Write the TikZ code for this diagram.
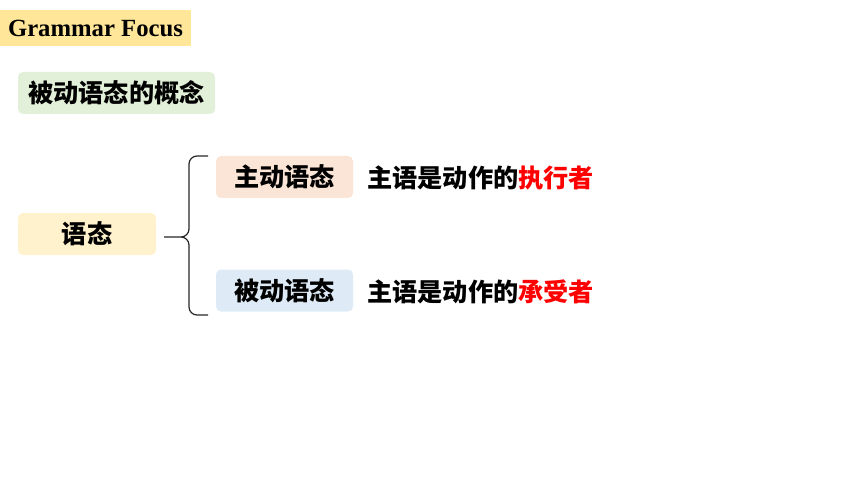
\documentclass[tikz,border=0pt]{standalone}
\usepackage{fontspec}
\usepackage{tikz}
\setmainfont{Liberation Serif}
\newfontfamily\cjk{Noto Sans CJK SC}
\definecolor{focusbg}{HTML}{FFE699}
\definecolor{conceptbg}{HTML}{E2F0D9}
\definecolor{voicebg}{HTML}{FFF2CC}
\definecolor{activebg}{HTML}{FBE5D6}
\definecolor{passivebg}{HTML}{DEEBF7}
\definecolor{keyred}{HTML}{FF0000}
\newcommand*{\key}[1]{\textcolor{keyred}{#1}}
\tikzset{
  box/.style={rounded corners=5pt, inner sep=0pt, minimum height=42pt,
    font=\cjk\bfseries\fontsize{25.2}{29}\selectfont},
  plain/.style={inner sep=0pt, font=\cjk\bfseries\fontsize{25.2}{29}\selectfont}
}

\begin{document}
\begin{tikzpicture}[x=1pt, y=-1pt]
        \useasboundingbox (0,0) rectangle (860,484);

        \node [fill=focusbg, inner sep=0pt, minimum width=191pt, minimum height=36pt,
          font=\bfseries\fontsize{24.7}{28}\selectfont] (focus) at (95.5,28) {Grammar Focus};
        \node [box, fill=conceptbg, minimum width=197pt] (concept) at (116.5,93) {被动语态的概念};

        \node [box, fill=voicebg, minimum width=138pt] (voice) at (87,234) {语态};
        \node [box, fill=activebg, minimum width=137pt] (active) at (284.5,177) {主动语态};
        \node [box, fill=passivebg, minimum width=137pt] (passive) at (284.5,290.5) {被动语态};

        \node [plain, anchor=west] (activedef) at (367,178) {主语是动作的\key{执行者}};
        \node [plain, anchor=west] (passivedef) at (367,292) {主语是动作的\key{承受者}};

        % brace
        \coordinate (stem) at (164,237);
        \coordinate (cusp) at (181,237);
        \coordinate (top) at (208,156);
        \coordinate (bottom) at (208,315);
        \draw [black!85, line width=1.2pt]
          (stem) -- (cusp) to[out=0, in=-90] (189,229) -- (189,164)
            to[out=90, in=180] (197,156) -- (top)
          (cusp) to[out=0, in=90] (189,245) -- (189,307)
            to[out=-90, in=180] (197,315) -- (bottom);
      \end{tikzpicture}
\end{document}
